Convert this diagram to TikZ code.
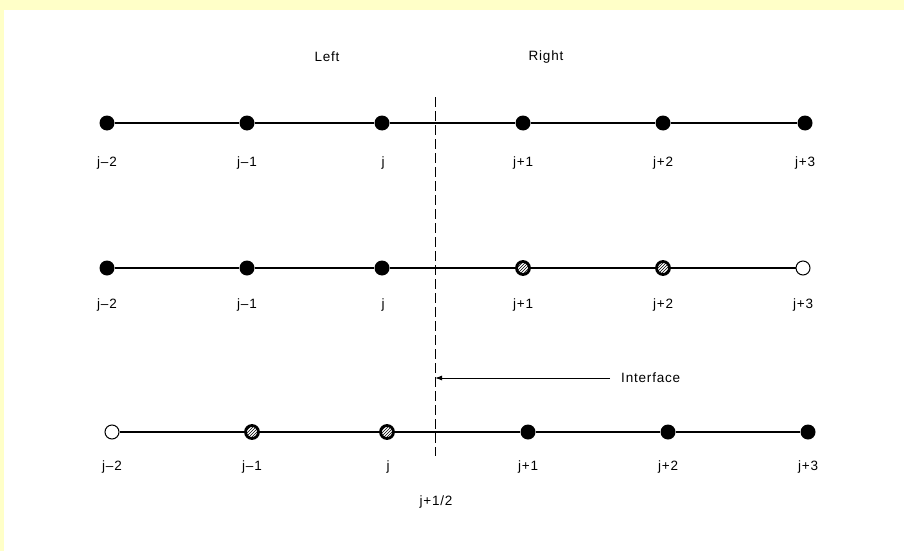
\documentclass[tikz,border=0pt]{standalone}
\usepackage{fontspec}
\setmainfont{Liberation Sans}[LetterSpace=6]
\usetikzlibrary{patterns,arrows.meta}
\definecolor{paleyellow}{HTML}{FFFFC8}
\begin{document}
\begin{tikzpicture}[x=1pt,y=-1pt,
  full/.style={circle,fill=black,inner sep=0pt,minimum size=15pt},
  hollow/.style={circle,draw=black,fill=white,line width=1pt,inner sep=0pt,minimum size=14pt},
  hatched/.style={circle,draw=black,line width=2.8pt,inner sep=0pt,minimum size=13pt,pattern=north east lines},
  lbl/.style={font=\fontsize{13.5}{16}\selectfont,inner sep=0pt},
  rowline/.style={line width=1.4pt},
  every node/.append style={text=black}]
\useasboundingbox (0,0) rectangle (904,551);
\fill[paleyellow] (0,0) rectangle (904,551);
\fill[white] (4,10) rectangle (904,551);

% header labels
\node[lbl] (left) at (327,57) {Left};
\node[lbl] (right) at (546,57) {Right};

% dashed interface line
\coordinate (dtop) at (435,97);
\coordinate (dbot) at (435,456);
\draw[line width=1pt,dash pattern=on 10pt off 4pt] (dtop) -- (dbot);

% Row 1
\node[full] (a1) at (107,123) {};
\node[full] (a2) at (247,123) {};
\node[full] (a3) at (382,123) {};
\node[full] (a4) at (523,123) {};
\node[full] (a5) at (663,123) {};
\node[full] (a6) at (805,123) {};
\draw[rowline] (a1) -- (a2) -- (a3) -- (a4) -- (a5) -- (a6);
\node[lbl] (la1) at (107,163) {j–2};
\node[lbl] (la2) at (247,163) {j–1};
\node[lbl] (la3) at (383,163) {j};
\node[lbl] (la4) at (523,163) {j+1};
\node[lbl] (la5) at (663,163) {j+2};
\node[lbl] (la6) at (805,163) {j+3};

% Row 2
\node[full] (b1) at (107,268) {};
\node[full] (b2) at (247,268) {};
\node[full] (b3) at (382,268) {};
\node[hatched] (b4) at (523,268) {};
\node[hatched] (b5) at (663,268) {};
\node[hollow] (b6) at (803,268) {};
\draw[rowline] (b1) -- (b2) -- (b3) -- (b4) -- (b5) -- (b6);
\node[lbl] (lb1) at (107,305) {j–2};
\node[lbl] (lb2) at (247,305) {j–1};
\node[lbl] (lb3) at (383,305) {j};
\node[lbl] (lb4) at (523,305) {j+1};
\node[lbl] (lb5) at (663,305) {j+2};
\node[lbl] (lb6) at (803,305) {j+3};

% Interface pointer
\coordinate (ifend) at (610,378);
\coordinate (iftip) at (435,378);
\draw[line width=1pt,-{Latex[length=7pt,width=5pt]}] (ifend) -- (iftip);
\node[lbl,anchor=west] (iflbl) at (621,378) {Interface};

% Row 3
\node[hollow] (c1) at (112,432) {};
\node[hatched] (c2) at (252,432) {};
\node[hatched] (c3) at (387,432) {};
\node[full] (c4) at (528,432) {};
\node[full] (c5) at (668,432) {};
\node[full] (c6) at (808,432) {};
\draw[rowline] (c1) -- (c2) -- (c3) -- (c4) -- (c5) -- (c6);
\node[lbl] (lc1) at (112,467) {j–2};
\node[lbl] (lc2) at (252,467) {j–1};
\node[lbl] (lc3) at (388,467) {j};
\node[lbl] (lc4) at (528,467) {j+1};
\node[lbl] (lc5) at (668,467) {j+2};
\node[lbl] (lc6) at (808,467) {j+3};

\node[lbl] (half) at (436,502) {j+1/2};
\end{tikzpicture}
\end{document}
